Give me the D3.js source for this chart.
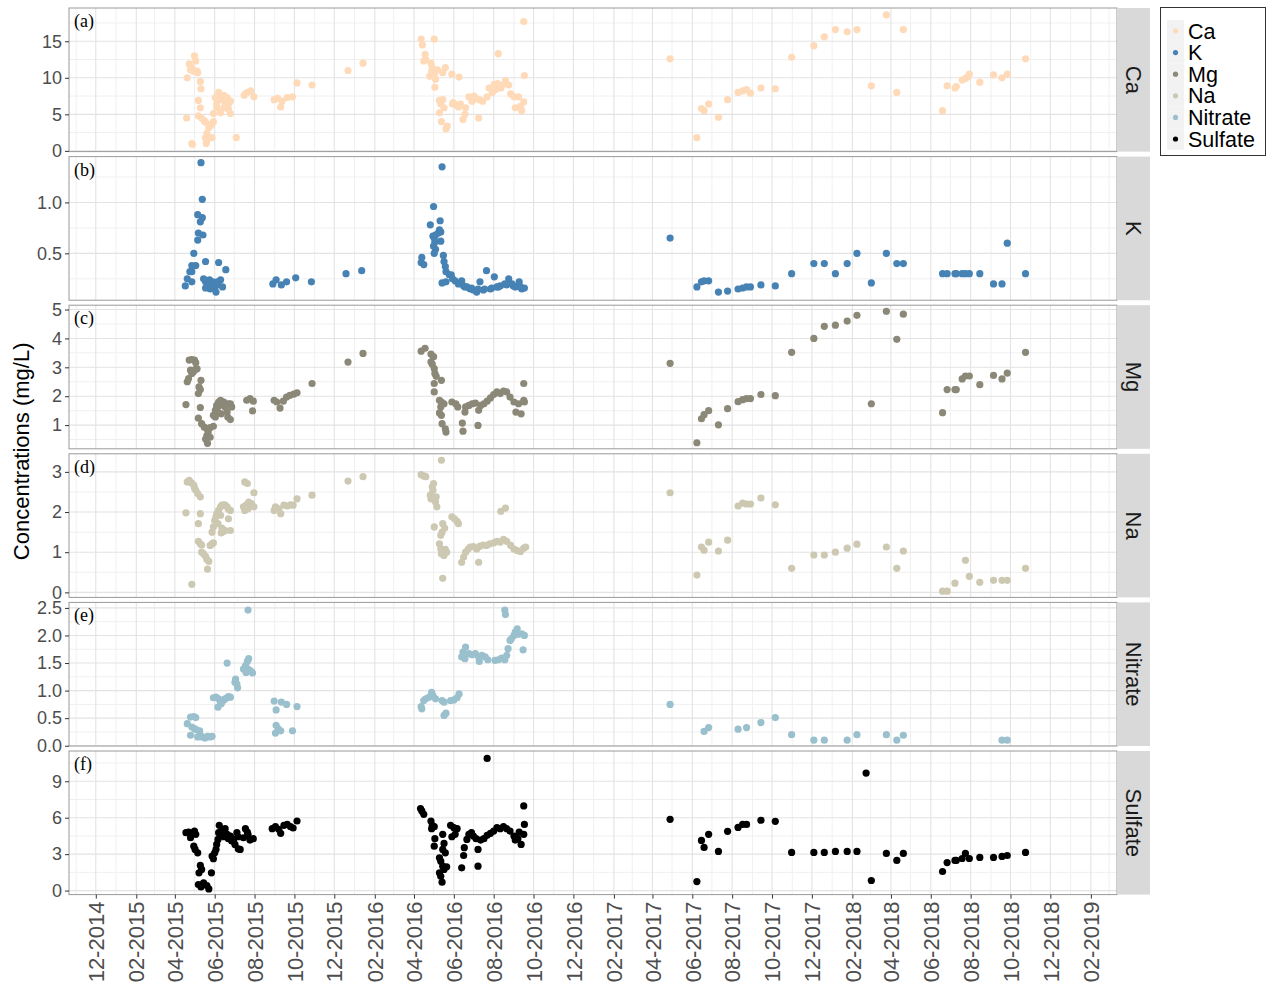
<!DOCTYPE html>
<html><head><meta charset="utf-8">
<script src="https://cdn.jsdelivr.net/npm/d3@7"></script>
<style>body{margin:0;background:#fff}svg{display:block}</style>
</head><body>
<svg id="chart" width="1272" height="986"></svg>
<script>
// ---- measured concentrations, mg/L ----
const caData = [
["2015-04-19",4.5],["2015-04-20",10.0],["2015-04-23",11.9],["2015-04-25",11.1],["2015-04-27",11.4],["2015-04-30",10.9],["2015-05-01",13.0],["2015-05-03",12.3],["2015-05-05",10.9],["2015-05-06",10.7],["2015-04-27",1.0],["2015-04-28",0.9],["2015-05-07",6.9],["2015-05-10",9.5],["2015-05-11",8.5],["2015-05-10",5.9],["2015-05-07",4.8],["2015-05-12",4.5],["2015-05-16",4.1],["2015-05-18",3.9],["2015-05-23",3.2],["2015-05-25",3.4],["2015-05-28",3.7],["2015-05-30",4.0],["2015-05-20",2.4],["2015-05-18",1.8],["2015-05-20",1.4],["2015-05-19",1.0],["2015-05-23",1.8],["2015-05-28",1.8],["2015-05-30",5.1],["2015-06-02",7.3],["2015-06-04",6.4],["2015-06-07",8.0],["2015-06-10",7.0],["2015-06-12",7.5],["2015-06-15",5.9],["2015-06-17",6.6],["2015-06-20",7.3],["2015-06-22",6.4],["2015-06-25",6.8],["2015-06-10",5.2],["2015-06-25",5.1],["2015-06-22",5.7],["2015-06-04",5.9],["2015-06-15",7.6],["2015-07-04",1.8],["2015-07-16",7.6],["2015-07-18",7.8],["2015-07-21",8.0],["2015-07-26",8.2],["2015-07-31",7.4],["2015-08-31",7.0],["2015-09-05",7.2],["2015-09-10",6.0],["2015-09-12",6.8],["2015-09-20",7.3],["2015-09-28",7.4],["2015-10-05",9.3],["2015-10-28",9.0],["2015-12-22",11.0],["2016-01-14",12.0],
["2016-04-12",15.3],["2016-04-14",14.5],["2016-05-02",15.3],["2016-04-18",13.2],["2016-04-19",12.5],["2016-04-16",12.3],["2016-04-27",12.0],["2016-04-29",11.4],["2016-04-28",10.9],["2016-04-25",10.2],["2016-05-02",10.5],["2016-05-04",9.8],["2016-05-03",8.7],["2016-05-07",11.1],["2016-05-19",11.4],["2016-05-15",10.7],["2016-05-29",10.5],["2016-06-09",10.1],["2016-05-10",6.9],["2016-05-15",7.0],["2016-05-12",6.4],["2016-05-17",5.9],["2016-05-10",5.2],["2016-05-13",4.0],["2016-05-22",3.4],["2016-05-20",3.0],["2016-05-30",6.4],["2016-06-04",6.3],["2016-06-08",6.0],["2016-06-11",6.4],["2016-06-15",4.3],["2016-06-18",5.0],["2016-06-19",5.9],["2016-06-24",7.4],["2016-06-29",6.8],["2016-07-05",7.2],["2016-07-10",7.0],["2016-07-09",4.5],["2016-07-15",6.8],["2016-07-22",7.4],["2016-07-25",8.6],["2016-07-30",8.0],["2016-08-02",9.1],["2016-08-07",9.2],["2016-08-08",13.3],["2016-08-12",8.6],["2016-08-14",9.0],["2016-08-19",9.6],["2016-08-24",9.0],["2016-08-27",7.8],["2016-09-01",7.4],["2016-09-03",5.9],["2016-09-08",7.4],["2016-09-11",6.1],["2016-09-13",5.5],["2016-09-16",6.7],["2016-09-16",17.7],["2016-09-17",10.3],["2016-05-31",6.6],["2016-07-02",7.5],["2016-08-04",8.4],
["2017-04-28",12.6],["2017-06-08",1.8],["2017-06-15",5.8],["2017-06-19",5.5],["2017-06-26",6.4],["2017-07-11",4.6],["2017-07-25",7.0],["2017-08-10",8.0],["2017-08-17",8.2],["2017-08-23",8.4],["2017-08-29",7.9],["2017-09-14",8.6],["2017-10-06",8.5],["2017-10-31",12.8],["2017-12-04",14.4],["2017-12-20",15.6],["2018-01-06",16.6],["2018-01-24",16.3],["2018-02-08",16.6],["2018-03-02",8.9],["2018-03-25",18.6],["2018-04-10",8.0],["2018-04-20",16.6],["2018-06-19",5.5],["2018-06-26",8.9],["2018-07-08",8.6],["2018-07-10",8.8],["2018-07-19",9.7],["2018-07-24",9.9],["2018-07-27",10.1],["2018-07-30",10.5],["2018-08-15",9.4],["2018-09-05",10.4],["2018-09-18",10.0],["2018-09-26",10.5],["2018-10-24",12.6]
];

const kData = [
["2015-05-11",1.39],["2015-05-13",1.03],["2015-05-06",0.88],["2015-05-13",0.85],["2015-05-10",0.81],["2015-05-07",0.70],["2015-05-14",0.68],["2015-05-06",0.63],["2015-04-30",0.50],["2015-04-27",0.38],["2015-05-03",0.38],["2015-04-24",0.32],["2015-04-27",0.32],["2015-04-20",0.25],["2015-04-17",0.18],["2015-04-27",0.22],["2015-05-18",0.42],["2015-06-07",0.41],["2015-06-18",0.34],
["2015-05-15",0.25],["2015-05-18",0.22],["2015-05-21",0.20],["2015-05-24",0.24],["2015-05-26",0.19],["2015-05-29",0.22],["2015-06-01",0.17],["2015-06-03",0.12],["2015-06-05",0.22],["2015-06-10",0.24],["2015-06-13",0.17],["2015-05-18",0.16],["2015-05-25",0.15],["2015-06-06",0.19],
["2015-08-29",0.20],["2015-09-03",0.24],["2015-09-11",0.19],["2015-09-19",0.22],["2015-10-03",0.26],["2015-10-27",0.22],["2015-12-19",0.30],["2016-01-12",0.33],
["2016-05-14",1.35],["2016-05-01",0.96],["2016-05-11",0.82],["2016-04-26",0.78],["2016-05-10",0.73],["2016-05-12",0.71],["2016-05-08",0.70],["2016-04-30",0.67],["2016-05-02",0.65],["2016-05-04",0.68],["2016-05-03",0.61],["2016-05-12",0.62],["2016-05-01",0.57],["2016-05-04",0.54],["2016-05-02",0.50],["2016-04-13",0.46],["2016-04-12",0.41],["2016-04-16",0.39],
["2016-05-16",0.48],["2016-05-17",0.42],["2016-05-19",0.37],["2016-05-20",0.32],["2016-05-25",0.29],["2016-05-28",0.29],["2016-05-30",0.25],["2016-05-14",0.21],["2016-05-20",0.22],
["2016-06-03",0.23],["2016-06-08",0.20],["2016-06-13",0.23],["2016-06-16",0.18],["2016-06-21",0.17],["2016-06-26",0.15],["2016-07-01",0.14],["2016-07-06",0.12],["2016-07-11",0.22],["2016-07-16",0.14],["2016-07-21",0.33],["2016-07-27",0.15],["2016-08-02",0.27],["2016-08-06",0.17],["2016-08-11",0.18],["2016-08-18",0.20],["2016-08-24",0.25],["2016-08-29",0.20],["2016-09-03",0.17],["2016-09-09",0.22],["2016-09-13",0.15],["2016-09-17",0.16],
["2016-06-18",0.17],["2016-06-28",0.16],["2016-07-08",0.15],["2016-07-18",0.15],["2016-07-29",0.16],["2016-08-08",0.17],["2016-08-21",0.19],["2016-08-31",0.18],["2016-09-11",0.17],
["2017-04-28",0.65],["2017-06-08",0.17],["2017-06-15",0.22],["2017-06-19",0.23],["2017-06-26",0.23],["2017-07-11",0.12],["2017-07-25",0.13],["2017-08-10",0.15],["2017-08-17",0.16],["2017-08-23",0.17],["2017-08-29",0.17],["2017-09-14",0.19],["2017-10-06",0.18],["2017-10-31",0.30],["2017-12-04",0.40],["2017-12-20",0.40],["2018-01-06",0.30],["2018-01-24",0.40],["2018-02-08",0.50],["2018-03-02",0.21],["2018-03-25",0.50],["2018-04-10",0.40],["2018-04-20",0.40],["2018-06-19",0.30],["2018-06-26",0.30],["2018-07-08",0.30],["2018-07-10",0.30],["2018-07-19",0.30],["2018-07-24",0.30],["2018-07-30",0.30],["2018-08-15",0.30],["2018-09-05",0.20],["2018-09-18",0.20],["2018-09-26",0.60],["2018-10-24",0.30]
];

const mgData = [
["2015-04-18",1.71],["2015-04-20",2.50],["2015-04-22",2.61],["2015-04-23",3.25],["2015-04-27",3.27],["2015-05-01",3.25],["2015-05-03",3.16],["2015-04-25",2.90],["2015-04-27",2.79],["2015-04-29",2.84],["2015-05-02",2.92],["2015-05-05",2.95],["2015-05-11",2.55],["2015-05-08",2.32],["2015-05-10",2.23],["2015-05-07",2.09],["2015-05-10",1.61],["2015-05-07",1.24],
["2015-05-12",1.05],["2015-05-16",0.93],["2015-05-20",0.87],["2015-05-25",0.91],["2015-05-30",0.96],["2015-05-20",0.64],["2015-05-22",0.76],["2015-05-18",0.52],["2015-05-21",0.37],["2015-05-25",0.58],
["2015-05-30",1.34],["2015-06-02",1.51],["2015-06-04",1.68],["2015-06-07",1.80],["2015-06-10",1.86],["2015-06-12",1.74],["2015-06-15",1.80],["2015-06-17",1.63],["2015-06-20",1.45],["2015-06-22",1.74],["2015-06-25",1.74],["2015-06-27",1.63],["2015-06-06",1.45],["2015-06-11",1.39],["2015-06-21",1.28],["2015-06-25",1.19],["2015-06-02",1.28],["2015-06-04",1.57],["2015-06-08",1.68],
["2015-07-20",1.86],["2015-07-25",1.92],["2015-07-30",1.83],["2015-07-29",1.49],
["2015-08-31",1.86],["2015-09-04",1.80],["2015-09-09",1.59],["2015-09-14",1.83],["2015-09-19",1.97],["2015-09-24",2.03],["2015-09-30",2.07],["2015-10-05",2.12],["2015-10-28",2.44],["2015-12-22",3.18],["2016-01-14",3.48],
["2016-04-12",3.56],["2016-04-18",3.66],["2016-04-27",3.46],["2016-05-01",3.37],["2016-04-27",3.19],["2016-04-29",3.11],["2016-05-02",2.96],["2016-05-03",2.79],["2016-05-05",2.69],["2016-05-13",2.55],["2016-05-02",2.44],["2016-05-02",2.15],
["2016-05-10",1.86],["2016-05-13",1.80],["2016-05-17",1.74],["2016-05-12",1.63],["2016-05-10",1.42],["2016-05-13",1.34],["2016-05-14",1.05],["2016-05-19",0.87],["2016-05-20",0.76],
["2016-05-29",1.80],["2016-06-04",1.74],["2016-06-07",1.63],["2016-06-14",1.07],["2016-06-15",0.79],["2016-06-18",1.45],
["2016-06-19",1.63],["2016-06-24",1.68],["2016-06-29",1.74],["2016-07-04",1.76],["2016-07-08",0.99],["2016-07-09",1.51],["2016-07-12",1.68],["2016-07-17",1.74],["2016-07-22",1.83],["2016-07-27",1.94],["2016-08-01",2.06],["2016-08-06",2.15],["2016-08-11",2.09],["2016-08-16",2.18],["2016-08-21",2.15],["2016-08-26",1.97],["2016-09-01",1.80],["2016-09-04",1.45],["2016-09-08",1.74],["2016-09-12",1.39],["2016-09-16",1.86],["2016-09-16",2.44],["2016-09-17",1.80],
["2017-04-28",3.14],["2017-06-08",0.39],["2017-06-15",1.22],["2017-06-19",1.36],["2017-06-26",1.50],["2017-07-11",1.01],["2017-07-25",1.57],["2017-08-10",1.81],["2017-08-17",1.88],["2017-08-23",1.92],["2017-08-29",1.92],["2017-09-14",2.06],["2017-10-06",2.02],["2017-10-31",3.52],["2017-12-04",4.00],["2017-12-20",4.42],["2018-01-06",4.46],["2018-01-24",4.60],["2018-02-08",4.80],["2018-03-02",1.74],["2018-03-25",4.94],["2018-04-10",3.97],["2018-04-20",4.84],["2018-06-19",1.43],["2018-06-26",2.23],["2018-07-08",2.23],["2018-07-10",2.23],["2018-07-19",2.60],["2018-07-24",2.70],["2018-07-30",2.70],["2018-08-15",2.40],["2018-09-05",2.72],["2018-09-18",2.60],["2018-09-26",2.80],["2018-10-24",3.52]
];

const naData = [
["2015-04-18",1.98],["2015-04-27",0.20],["2015-04-20",2.75],["2015-04-23",2.79],["2015-04-26",2.73],["2015-04-30",2.67],["2015-05-01",2.60],["2015-05-03",2.54],["2015-05-06",2.46],["2015-05-10",2.38],["2015-05-10",1.96],["2015-05-07",1.71],
["2015-05-07",1.27],["2015-05-10",1.21],["2015-05-12",1.18],["2015-05-12",1.00],["2015-05-15",0.96],["2015-05-18",0.90],["2015-05-20",0.82],["2015-05-23",0.77],["2015-05-21",0.58],["2015-05-25",1.17],["2015-05-28",1.21],["2015-05-30",1.23],
["2015-05-28",1.50],["2015-05-30",1.63],["2015-06-01",1.79],["2015-06-03",1.88],["2015-06-04",1.96],["2015-06-07",2.04],["2015-06-10",2.13],["2015-06-12",2.17],["2015-06-15",2.18],["2015-06-17",2.17],["2015-06-20",2.13],["2015-06-22",2.07],["2015-06-25",2.04],["2015-06-10",1.92],["2015-06-06",1.71],["2015-06-12",1.60],["2015-06-17",1.54],["2015-06-22",1.83],["2015-06-25",1.54],["2015-06-11",1.48],["2015-06-15",1.52],
["2015-07-17",2.75],["2015-07-21",2.71],["2015-07-31",2.48],["2015-07-15",2.13],["2015-07-19",2.17],["2015-07-23",2.25],["2015-07-27",2.21],["2015-07-31",2.13],["2015-07-17",2.04],["2015-07-22",2.08],
["2015-08-31",2.04],["2015-09-02",2.13],["2015-09-07",2.08],["2015-09-10",1.96],["2015-09-15",2.17],["2015-09-20",2.15],["2015-09-25",2.18],["2015-09-29",2.17],["2015-10-05",2.33],["2015-10-28",2.42],["2015-12-22",2.77],["2016-01-14",2.88],
["2016-04-12",2.93],["2016-04-16",2.90],["2016-04-19",2.88],["2016-05-13",3.29],["2016-05-01",2.71],["2016-04-29",2.63],["2016-04-30",2.54],["2016-04-26",2.42],["2016-04-27",2.33],["2016-05-05",2.38],["2016-05-04",2.25],["2016-05-06",2.13],["2016-05-02",1.63],
["2016-05-15",1.71],["2016-05-18",1.60],["2016-05-14",1.50],["2016-05-12",1.42],["2016-05-29",1.88],["2016-06-02",1.83],["2016-06-06",1.77],["2016-06-08",1.71],
["2016-05-10",1.21],["2016-05-12",1.08],["2016-05-15",1.02],["2016-05-19",1.07],["2016-05-21",1.00],["2016-05-13",0.96],["2016-05-17",0.92],["2016-05-15",0.35],
["2016-06-13",0.75],["2016-06-16",0.88],["2016-06-19",1.00],["2016-06-23",1.08],["2016-06-26",1.13],["2016-07-01",1.14],["2016-07-06",1.08],["2016-07-09",0.75],["2016-07-11",1.15],["2016-07-16",1.18],["2016-07-21",1.17],["2016-07-26",1.21],["2016-08-01",1.23],["2016-08-06",1.27],["2016-08-11",1.25],["2016-08-16",1.32],["2016-08-21",1.27],["2016-08-27",1.17],["2016-09-01",1.08],["2016-09-06",1.04],["2016-09-11",1.02],["2016-09-16",1.10],["2016-09-19",1.13],["2016-08-12",2.02],["2016-08-19",2.10],
["2017-04-28",2.48],["2017-06-08",0.43],["2017-06-15",1.13],["2017-06-19",1.05],["2017-06-26",1.25],["2017-07-11",1.03],["2017-07-25",1.30],["2017-08-10",2.15],["2017-08-17",2.22],["2017-08-23",2.20],["2017-08-29",2.20],["2017-09-14",2.35],["2017-10-06",2.18],["2017-10-31",0.60],["2017-12-04",0.93],["2017-12-20",0.93],["2018-01-06",1.00],["2018-01-24",1.10],["2018-02-08",1.20],["2018-03-25",1.13],["2018-04-10",0.60],["2018-04-20",1.03],["2018-06-19",0.03],["2018-06-26",0.03],["2018-07-08",0.23],["2018-07-24",0.80],["2018-07-30",0.40],["2018-08-15",0.25],["2018-09-05",0.30],["2018-09-18",0.30],["2018-09-26",0.30],["2018-10-24",0.60]
];

const nitrateData = [
["2015-04-20",0.40],["2015-04-25",0.52],["2015-04-30",0.53],["2015-05-03",0.51],["2015-04-27",0.34],["2015-05-01",0.31],["2015-05-04",0.29],["2015-05-09",0.27],["2015-04-25",0.19],
["2015-05-06",0.16],["2015-05-10",0.19],["2015-05-13",0.16],["2015-05-17",0.14],["2015-05-21",0.17],["2015-05-25",0.16],["2015-05-28",0.17],
["2015-05-30",0.87],["2015-06-03",0.88],["2015-06-07",0.85],["2015-06-10",0.79],["2015-06-06",0.70],["2015-06-12",0.82],["2015-06-15",0.83],["2015-06-17",0.85],["2015-06-20",0.87],["2015-06-22",0.89],["2015-06-25",0.88],["2015-06-11",0.76],
["2015-06-20",1.50],["2015-07-03",1.21],["2015-07-05",1.12],["2015-07-06",1.05],["2015-07-02",1.15],
["2015-07-15",1.39],["2015-07-18",1.45],["2015-07-21",1.53],["2015-07-23",1.58],["2015-07-19",1.33],["2015-07-26",1.36],["2015-07-29",1.32],["2015-07-22",1.39],["2015-07-22",2.46],
["2015-08-31",0.81],["2015-09-03",0.65],["2015-09-11",0.79],["2015-09-19",0.75],["2015-10-05",0.71],["2015-09-02",0.23],["2015-09-06",0.31],["2015-09-10",0.27],["2015-09-28",0.27],["2015-09-03",0.37],
["2016-04-12",0.71],["2016-04-13",0.67],["2016-04-16",0.82],["2016-04-19",0.85],["2016-04-24",0.88],["2016-04-28",0.97],["2016-04-30",0.91],["2016-05-04",0.85],["2016-05-14",0.82],["2016-05-17",0.79],["2016-05-20",0.59],["2016-05-17",0.55],["2016-05-27",0.82],["2016-06-01",0.83],["2016-06-06",0.87],["2016-06-09",0.94],
["2016-06-13",1.61],["2016-06-15",1.70],["2016-06-19",1.79],["2016-06-24",1.67],["2016-06-18",1.58],["2016-06-29",1.65],["2016-07-04",1.67],["2016-07-09",1.61],["2016-07-10",1.53],["2016-07-14",1.64],["2016-07-19",1.61],["2016-07-23",1.56],["2016-08-03",1.55],["2016-08-08",1.56],["2016-08-13",1.59],["2016-08-18",1.56],["2016-08-21",1.64],["2016-08-23",1.76],["2016-08-26",1.91],["2016-08-28",1.94],["2016-09-01",2.00],["2016-09-03",2.06],["2016-09-06",2.12],["2016-09-08",2.02],["2016-09-13",2.03],["2016-09-17",2.00],["2016-09-15",1.74],["2016-08-18",2.46],["2016-08-19",2.38],
["2017-04-28",0.75],["2017-06-19",0.26],["2017-06-26",0.33],["2017-08-10",0.30],["2017-08-23",0.33],["2017-09-14",0.42],["2017-10-06",0.51],["2017-10-31",0.20],["2017-12-04",0.10],["2017-12-20",0.10],["2018-01-24",0.10],["2018-02-08",0.20],["2018-03-25",0.20],["2018-04-10",0.10],["2018-04-20",0.19],["2018-09-18",0.10],["2018-09-26",0.10]
];

const sulfateData = [
["2015-04-18",4.77],["2015-04-22",4.82],["2015-04-27",4.71],["2015-05-01",4.90],["2015-05-03",4.63],["2015-04-25",4.35],["2015-04-30",3.66],["2015-05-02",3.39],["2015-05-06",3.11],["2015-05-10",2.07],["2015-05-08",1.46],["2015-05-12",1.74],
["2015-05-07",0.50],["2015-05-11",0.30],["2015-05-20",0.41],["2015-05-23",0.14],["2015-05-15",0.63],["2015-05-27",1.46],
["2015-05-28",2.84],["2015-05-30",2.62],["2015-06-01",3.11],["2015-06-03",3.39],["2015-06-04",3.80],["2015-06-06",4.21],["2015-06-07",4.77],["2015-06-08",5.37],["2015-06-10",4.63],["2015-06-12",4.90],["2015-06-15",4.43],["2015-06-17",5.10],["2015-06-20",4.63],["2015-06-22",4.27],["2015-06-25",4.49],["2015-06-27",4.08],["2015-06-30",4.21],["2015-07-02",3.80],["2015-07-05",4.77],["2015-07-07",3.44],["2015-07-10",3.39],["2015-07-07",4.43],["2015-07-15",4.35],["2015-07-18",5.10],["2015-07-22",4.63],["2015-07-25",4.16],["2015-07-30",4.27],["2015-07-21",4.82],
["2015-08-28",5.10],["2015-09-02",5.26],["2015-09-07",5.04],["2015-09-10",4.71],["2015-09-15",5.37],["2015-09-20",5.45],["2015-09-25",5.26],["2015-09-29",5.15],["2015-10-05",5.73],
["2016-04-11",6.75],["2016-04-13",6.56],["2016-04-16",6.28],["2016-07-22",10.88],["2016-04-27",5.73],["2016-04-29",5.37],["2016-04-28",5.10],["2016-05-02",5.26],["2016-05-03",4.27],["2016-05-02",3.66],["2016-05-15",4.63],["2016-05-17",3.88],
["2016-05-10",2.70],["2016-05-12",2.42],["2016-05-15",2.01],["2016-05-17",1.74],["2016-05-10",1.46],["2016-05-12",1.18],["2016-05-14",0.69],["2016-05-21",1.96],["2016-05-19",3.11],["2016-05-15",3.39],
["2016-05-27",5.37],["2016-06-01",5.18],["2016-06-06",5.10],["2016-05-29",4.43],["2016-06-03",4.63],
["2016-06-13",1.87],["2016-06-16",2.89],["2016-06-17",3.53],["2016-06-21",4.21],["2016-06-24",4.63],["2016-06-28",4.77],["2016-07-01",4.49],["2016-07-05",4.27],["2016-07-08",3.39],["2016-07-08",2.01],["2016-07-12",4.16],["2016-07-17",4.27],["2016-07-22",4.55],["2016-07-27",4.71],["2016-08-01",4.90],["2016-08-06",5.18],["2016-08-11",5.10],["2016-08-16",5.26],["2016-08-21",5.10],["2016-08-26",4.90],["2016-09-01",4.49],["2016-09-03",4.16],["2016-09-07",4.27],["2016-09-12",3.80],["2016-09-16",4.63],["2016-09-17",5.45],["2016-09-16",6.97],["2016-09-09",4.82],
["2017-04-28",5.87],["2017-06-08",0.74],["2017-06-15",4.13],["2017-06-19",3.55],["2017-06-26",4.63],["2017-07-11",3.22],["2017-07-25",4.88],["2017-08-10",5.20],["2017-08-17",5.45],["2017-08-23",5.45],["2017-09-14",5.79],["2017-10-06",5.70],["2017-10-31",3.14],["2017-12-04",3.14],["2017-12-20",3.14],["2018-01-06",3.22],["2018-01-24",3.22],["2018-02-08",3.22],["2018-02-22",9.67],["2018-03-02",0.83],["2018-03-25",3.06],["2018-04-10",2.48],["2018-04-20",3.06],["2018-06-19",1.57],["2018-06-26",2.31],["2018-07-08",2.48],["2018-07-10",2.48],["2018-07-19",2.64],["2018-07-24",3.06],["2018-07-30",2.64],["2018-08-15",2.73],["2018-09-05",2.73],["2018-09-18",2.81],["2018-09-26",2.89],["2018-10-24",3.14]
];

// ---- series and axis settings ----
const seriesNames = ["Ca","K","Mg","Na","Nitrate","Sulfate"];
const seriesColors = ["#FFDAB9","#4682B4","#8B8878","#CDC8B1","#9AC0CD","#000000"];
const panelTags = ["(a)","(b)","(c)","(d)","(e)","(f)"];
const seriesData = [caData,kData,mgData,naData,nitrateData,sulfateData];
const yDomains = [[-0.1,19.55],[0.04,1.45],[0.18,5.15],[-0.125,3.45],[-0.005,2.6],[-0.33,11.49]];
const yTicks = [[0,5,10,15],[0.5,1.0],[1,2,3,4,5],[0,1,2,3],[0,0.5,1,1.5,2,2.5],[0,3,6,9]];
const yTickFormats = ["d",".1f","d","d",".1f","d"];
const xTickStart = "2014-12-01", xTickEnd = "2019-02-01";   // labelled every 2 months
const xDomain = ["2014-10-21","2019-03-13"];
const yTitle = "Concentrations (mg/L)";

const parse = d3.utcParse("%Y-%m-%d");
const svg = d3.select("#chart");
const plotLeft = 69, plotRight = 1117, stripW = 33;
const panelTop0 = 8, panelStep = 148.6, panelH = 143.6;
const font = "'Liberation Sans', Arial, sans-serif";

const x = d3.scaleUtc().domain(xDomain.map(parse)).range([plotLeft, plotRight]);
const majorX = d3.utcMonth.range(parse(xTickStart), d3.utcDay.offset(parse(xTickEnd), 1), 2);
const majorKeys = new Set(majorX.map(d => d.getUTCMonth() % 2));
const minorX = d3.utcMonth.range(x.domain()[0], x.domain()[1]).filter(d => !majorKeys.has(d.getUTCMonth() % 2));

seriesNames.forEach((name, i) => {
  const top = panelTop0 + i * panelStep, bottom = top + panelH;
  const y = d3.scaleLinear().domain(yDomains[i]).range([bottom, top]);
  const g = svg.append("g");
  const t = yTicks[i];
  const step = t[1] - t[0];
  const minorY = [];
  for (let v = t[0] - step/2; v <= yDomains[i][1]; v += step) if (v >= yDomains[i][0]) minorY.push(v);

  g.append("rect").attr("x", plotLeft).attr("y", top).attr("width", plotRight - plotLeft).attr("height", panelH).attr("fill", "#fff");
  // grid
  g.selectAll(".mnx").data(minorX).join("line").attr("class","mnx")
    .attr("x1", d => x(d)).attr("x2", d => x(d)).attr("y1", top).attr("y2", bottom)
    .attr("stroke", "#f0f0f0").attr("stroke-width", 1);
  g.selectAll(".mny").data(minorY).join("line").attr("class","mny")
    .attr("x1", plotLeft).attr("x2", plotRight).attr("y1", d => y(d)).attr("y2", d => y(d))
    .attr("stroke", "#f0f0f0").attr("stroke-width", 1);
  g.selectAll(".mjx").data(majorX).join("line").attr("class","mjx")
    .attr("x1", d => x(d)).attr("x2", d => x(d)).attr("y1", top).attr("y2", bottom)
    .attr("stroke", "#e3e3e3").attr("stroke-width", 1.1);
  g.selectAll(".mjy").data(t).join("line").attr("class","mjy")
    .attr("x1", plotLeft).attr("x2", plotRight).attr("y1", d => y(d)).attr("y2", d => y(d))
    .attr("stroke", "#e3e3e3").attr("stroke-width", 1.1);

  // points
  g.append("g").selectAll("circle").data(seriesData[i]).join("circle")
    .attr("cx", d => x(parse(d[0]))).attr("cy", d => y(d[1])).attr("r", 3.6)
    .attr("fill", seriesColors[i]);

  // border
  g.append("rect").attr("x", plotLeft).attr("y", top).attr("width", plotRight - plotLeft).attr("height", panelH)
    .attr("fill", "none").attr("stroke", "#9a9a9a").attr("stroke-width", 1);

  // y axis
  const ay = g.append("g").attr("transform", `translate(${plotLeft},0)`)
    .call(d3.axisLeft(y).tickValues(t).tickFormat(d3.format(yTickFormats[i])).tickSize(4).tickPadding(3));
  ay.select(".domain").remove();
  ay.selectAll(".tick line").attr("stroke", "#333");
  ay.selectAll("text").attr("font-family", font).attr("font-size", 18).attr("fill", "#4d4d4d");

  // strip
  g.append("rect").attr("x", plotRight).attr("y", top).attr("width", stripW).attr("height", panelH).attr("fill", "#d9d9d9");
  g.append("text").attr("transform", `translate(${plotRight + stripW/2},${top + panelH/2}) rotate(90)`)
    .attr("text-anchor", "middle").attr("dy", "0.35em")
    .attr("font-family", font).attr("font-size", 22).attr("fill", "#1a1a1a").text(name);

  // panel tag
  g.append("text").attr("x", plotLeft + 5).attr("y", top + 19)
    .attr("font-family", "'Liberation Serif', 'Times New Roman', serif").attr("font-size", 18).attr("fill", "#000")
    .text(panelTags[i]);

  if (i === seriesNames.length - 1) {
    const ax = g.append("g").attr("transform", `translate(0,${bottom})`)
      .call(d3.axisBottom(x).tickValues(majorX).tickFormat(d3.utcFormat("%m-%Y")).tickSize(4).tickPadding(3));
    ax.select(".domain").remove();
    ax.selectAll(".tick line").attr("stroke", "#333");
    ax.selectAll("text").attr("font-family", font).attr("font-size", 22).attr("fill", "#4d4d4d")
      .attr("transform", "rotate(-90)").attr("text-anchor", "end").attr("dy", "0.35em")
      .attr("x", -7).attr("y", 0);
  }
});

// y title
svg.append("text").attr("transform", `translate(29,${panelTop0 + (5*panelStep + panelH)/2}) rotate(-90)`)
  .attr("text-anchor", "middle").attr("font-family", font).attr("font-size", 22).attr("fill", "#000").text(yTitle);

// legend
const lg = svg.append("g").attr("transform", "translate(1160,7)");
lg.append("rect").attr("x", 0.5).attr("y", 0.5).attr("width", 105).attr("height", 148)
  .attr("fill", "#fff").attr("stroke", "#333").attr("stroke-width", 1);
seriesNames.forEach((name, i) => {
  const cy = 24 + i * 21.6;
  lg.append("rect").attr("x", 7).attr("y", cy - 10.8).attr("width", 17).attr("height", 21.6).attr("fill", "#f2f2f2");
  lg.append("circle").attr("cx", 15.5).attr("cy", cy).attr("r", 2.6).attr("fill", seriesColors[i]);
  lg.append("text").attr("x", 28).attr("y", cy).attr("dy", "0.35em")
    .attr("font-family", font).attr("font-size", 21.5).attr("fill", "#000").text(name);
});
</script>
</body></html>
